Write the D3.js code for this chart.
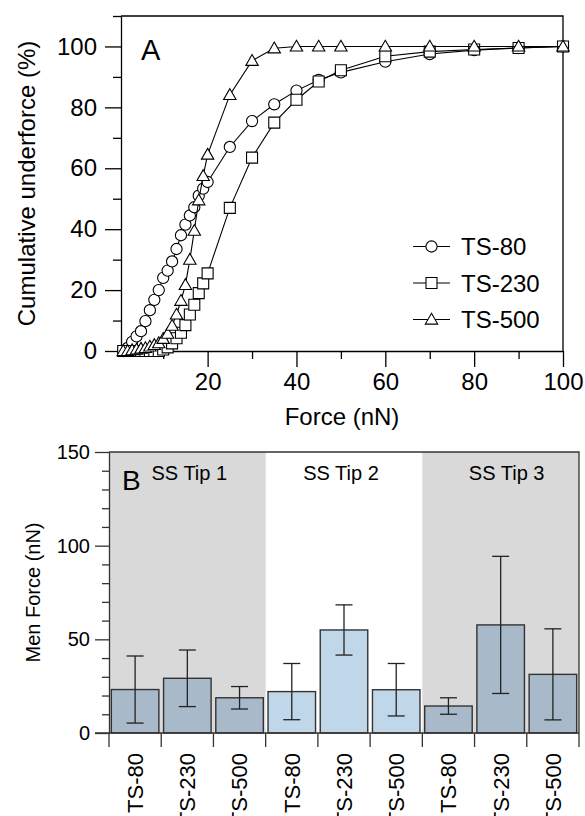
<!DOCTYPE html>
<html>
<head>
<meta charset="utf-8">
<script src="https://cdn.jsdelivr.net/npm/d3@7"></script>
<style>
  body { margin: 0; background: #fff; }
  svg text { font-family: "Liberation Sans", Arial, Helvetica, sans-serif; fill: #000; }
</style>
</head>
<body>
<svg id="chart" width="585" height="816"></svg>
<script>
// ---------- Panel A: cumulative underforce vs force ----------
const forceGrid = [1,2,3,4,5,6,7,8,9,10,11,12,13,14,15,16,17,18,19,20,25,30,35,40,45,50,60,70,80,90,100];
const cumTS80  = [0,1,3,4.8,6.5,9.8,13.4,16.8,20,24,26.4,29.4,33.5,38,41.5,44.5,47.2,51,53.3,55.5,67,75.5,81,85.5,89,91.5,95,97.5,98.8,99.5,100];
const cumTS230 = [0,0,0,0,0,0,0,0,0,0.5,1.2,2.5,4.2,6,8.5,12,15.2,19,22.2,25.5,47,63.5,75,82.5,88.5,92.2,96.8,98.3,99,99.5,100];
const cumTS500 = [0,0,0.3,0.5,0.8,1,1.5,2,2.6,4,5.7,8.3,12,16.5,21.7,30,39.5,49.5,57.5,64.5,84.1,95.3,99.4,100,100,100,100,100,100,100,100];
const seriesNames = ["TS-80","TS-230","TS-500"];
const yTicksA = [0,20,40,60,80,100];
const xTicksA = [20,40,60,80,100];

// ---------- Panel B: mean force per tip and probe ----------
const tips = ["SS Tip 1","SS Tip 2","SS Tip 3"];
const probes = ["TS-80","TS-230","TS-500"];
const meanForce = [[23.2,29.2,18.8],[22.1,55.0,23.1],[14.4,57.7,31.3]];
const errForce  = [[17.9,15.1,6.0],[15.0,13.4,14.0],[4.4,36.6,24.3]];
const yTicksB = [0,50,100,150];

const svg = d3.select("#chart");

// ===== Panel A =====
const A = { left: 121, right: 563, top: 16, bottom: 351 };
const xA = d3.scaleLinear().domain([0.5, 100]).range([A.left, A.right]);
const yA = d3.scaleLinear().domain([0, 110]).range([A.bottom, A.top]);

const gA = svg.append("g");

// frame (top and right sides)
gA.append("path")
  .attr("d", `M${A.left},${A.top}H${A.right}V${A.bottom}`)
  .attr("fill", "none").attr("stroke", "#000").attr("stroke-width", 1.3);

// y axis
const yAxisA = gA.append("g").attr("transform", `translate(${A.left},0)`)
  .call(d3.axisLeft(yA).tickValues(yTicksA).tickSize(16).tickPadding(8).tickSizeOuter(0));
gA.append("g").attr("transform", `translate(${A.left},0)`)
  .call(d3.axisLeft(yA).tickValues([10,30,50,70,90,110]).tickSize(8).tickFormat("").tickSizeOuter(0))
  .select(".domain").remove();
// x axis
const xAxisA = gA.append("g").attr("transform", `translate(0,${A.bottom})`)
  .call(d3.axisBottom(xA).tickValues(xTicksA).tickSize(16).tickPadding(6).tickSizeOuter(0));
gA.append("g").attr("transform", `translate(0,${A.bottom})`)
  .call(d3.axisBottom(xA).tickValues([10,30,50,70,90]).tickSize(8).tickFormat("").tickSizeOuter(0))
  .select(".domain").remove();
gA.selectAll(".tick line, .domain").attr("stroke", "#000").attr("stroke-width", 1.3);
gA.selectAll(".tick text").style("font-size", "24px");

// axis titles
gA.append("text").attr("x", (A.left + A.right) / 2).attr("y", 425)
  .attr("text-anchor", "middle").style("font-size", "24px").text("Force (nN)");
gA.append("text")
  .attr("transform", `translate(35,${(A.top + A.bottom) / 2}) rotate(-90)`)
  .attr("text-anchor", "middle").style("font-size", "24px").text("Cumulative underforce (%)");
gA.append("text").attr("x", 141).attr("y", 60).style("font-size", "29px").text("A");

// marker shapes
const markerPath = {
  "TS-80":  d3.symbol().type(d3.symbolCircle).size(Math.PI * 5.6 * 5.6)(),
  "TS-230": "M-5.5,-5.5H5.5V5.5H-5.5Z",
  "TS-500": "M0,-6.2L6.2,4.6H-6.2Z"
};
const seriesData = [cumTS80, cumTS230, cumTS500];
const line = d3.line().x(d => xA(d[0])).y(d => yA(d[1]));

seriesNames.forEach((name, i) => {
  const pts = forceGrid.map((f, j) => [f, seriesData[i][j]]);
  const g = gA.append("g");
  g.append("path").datum(pts).attr("d", line)
    .attr("fill", "none").attr("stroke", "#000").attr("stroke-width", 1.1);
  g.selectAll("path.m").data(pts).join("path").attr("class", "m")
    .attr("d", markerPath[name])
    .attr("transform", d => `translate(${xA(d[0])},${yA(d[1])})`)
    .attr("fill", "#fff").attr("stroke", "#000").attr("stroke-width", 1.1);
});

// legend
const legA = gA.append("g");
seriesNames.forEach((name, i) => {
  const y = 246.5 + i * 36.5;
  legA.append("line").attr("x1", 413).attr("x2", 450).attr("y1", y).attr("y2", y)
    .attr("stroke", "#000").attr("stroke-width", 1.1);
  legA.append("path").attr("d", markerPath[name]).attr("transform", `translate(431.5,${y})`)
    .attr("fill", "#fff").attr("stroke", "#000").attr("stroke-width", 1.1);
  legA.append("text").attr("x", 461).attr("y", y + 8.5).style("font-size", "24px").text(name);
});

// ===== Panel B =====
const B = { left: 109, right: 579, top: 452, bottom: 733 };
const cats = [];
tips.forEach((t, i) => probes.forEach((p, j) => cats.push({ tip: i, probe: p, key: t + "|" + p,
  mean: meanForce[i][j], err: errForce[i][j] })));
const xB = d3.scaleBand().domain(cats.map(d => d.key)).range([B.left, B.right])
  .paddingInner(0.09).paddingOuter(0.045);
const yB = d3.scaleLinear().domain([0, 150]).range([B.bottom, B.top]);
const step = xB.step();
const bandStart = k => B.left + cats.findIndex(c => c.key === k) * step;

const gB = svg.append("g");
const axisColor = "#333";

// group shading
tips.forEach((t, i) => {
  if (i !== 1) {
    gB.append("rect").attr("x", B.left + i * 3 * step).attr("y", B.top)
      .attr("width", 3 * step).attr("height", B.bottom - B.top).attr("fill", "#d9d9d9");
  }
});

// bars
const barFill = ["#a8bac9", "#c0d7ea", "#a8bac9"];
gB.selectAll("rect.bar").data(cats).join("rect").attr("class", "bar")
  .attr("x", d => xB(d.key)).attr("width", xB.bandwidth())
  .attr("y", d => yB(d.mean)).attr("height", d => yB(0) - yB(d.mean))
  .attr("fill", d => barFill[d.tip]).attr("stroke", "#333").attr("stroke-width", 1.4);

// error bars
const eb = gB.selectAll("g.err").data(cats).join("g").attr("class", "err")
  .attr("transform", d => `translate(${xB(d.key) + xB.bandwidth() / 2},0)`)
  .attr("stroke", "#222").attr("stroke-width", 1.3);
eb.append("line").attr("y1", d => yB(d.mean + d.err)).attr("y2", d => yB(d.mean - d.err));
eb.append("line").attr("x1", -8.5).attr("x2", 8.5).attr("y1", d => yB(d.mean + d.err)).attr("y2", d => yB(d.mean + d.err));
eb.append("line").attr("x1", -8.5).attr("x2", 8.5).attr("y1", d => yB(d.mean - d.err)).attr("y2", d => yB(d.mean - d.err));

// frame
gB.append("path").attr("d", `M${B.left},${B.top}H${B.right}V${B.bottom}`)
  .attr("fill", "none").attr("stroke", axisColor).attr("stroke-width", 1.3);

// y axis
gB.append("g").attr("transform", `translate(${B.left},0)`)
  .call(d3.axisLeft(yB).tickValues(yTicksB).tickSize(14).tickPadding(5).tickSizeOuter(0));
gB.append("g").attr("transform", `translate(${B.left},0)`)
  .call(d3.axisLeft(yB).tickValues(d3.range(10, 150, 10).filter(v => v % 50 !== 0)).tickSize(7).tickFormat("").tickSizeOuter(0))
  .select(".domain").remove();

// x axis: boundary ticks between bars, labels rotated under each bar
const xAxisB = gB.append("g").attr("transform", `translate(0,${B.bottom})`);
xAxisB.append("line").attr("x1", B.left - 14).attr("x2", B.right).attr("stroke", axisColor).attr("stroke-width", 1.3);
xAxisB.selectAll("line.bt").data(d3.range(cats.length + 1)).join("line").attr("class", "bt")
  .attr("x1", i => B.left + i * step).attr("x2", i => B.left + i * step)
  .attr("y1", 0).attr("y2", 14).attr("stroke", axisColor).attr("stroke-width", 1.3);
xAxisB.selectAll("text").data(cats).join("text")
  .attr("transform", d => `translate(${xB(d.key) + xB.bandwidth() / 2},20) rotate(-90)`)
  .attr("text-anchor", "end").attr("dy", "0.36em").style("font-size", "22px")
  .text(d => d.probe);

gB.selectAll(".tick line, .domain").attr("stroke", axisColor).attr("stroke-width", 1.3);
gB.selectAll(".tick text").style("font-size", "20px");

// group titles and panel letter
tips.forEach((t, i) => {
  gB.append("text").attr("x", B.left + (i * 3 + 1.5) * step + (i === 0 ? 2 : i === 1 ? -3 : 6)).attr("y", 480)
    .attr("text-anchor", "middle").style("font-size", "20px").text(t);
});
gB.append("text").attr("x", 122).attr("y", 490).style("font-size", "28px").text("B");
gB.append("text")
  .attr("transform", `translate(40,${(B.top + B.bottom) / 2}) rotate(-90)`)
  .attr("text-anchor", "middle").style("font-size", "20px").text("Men Force (nN)");
</script>
</body>
</html>
